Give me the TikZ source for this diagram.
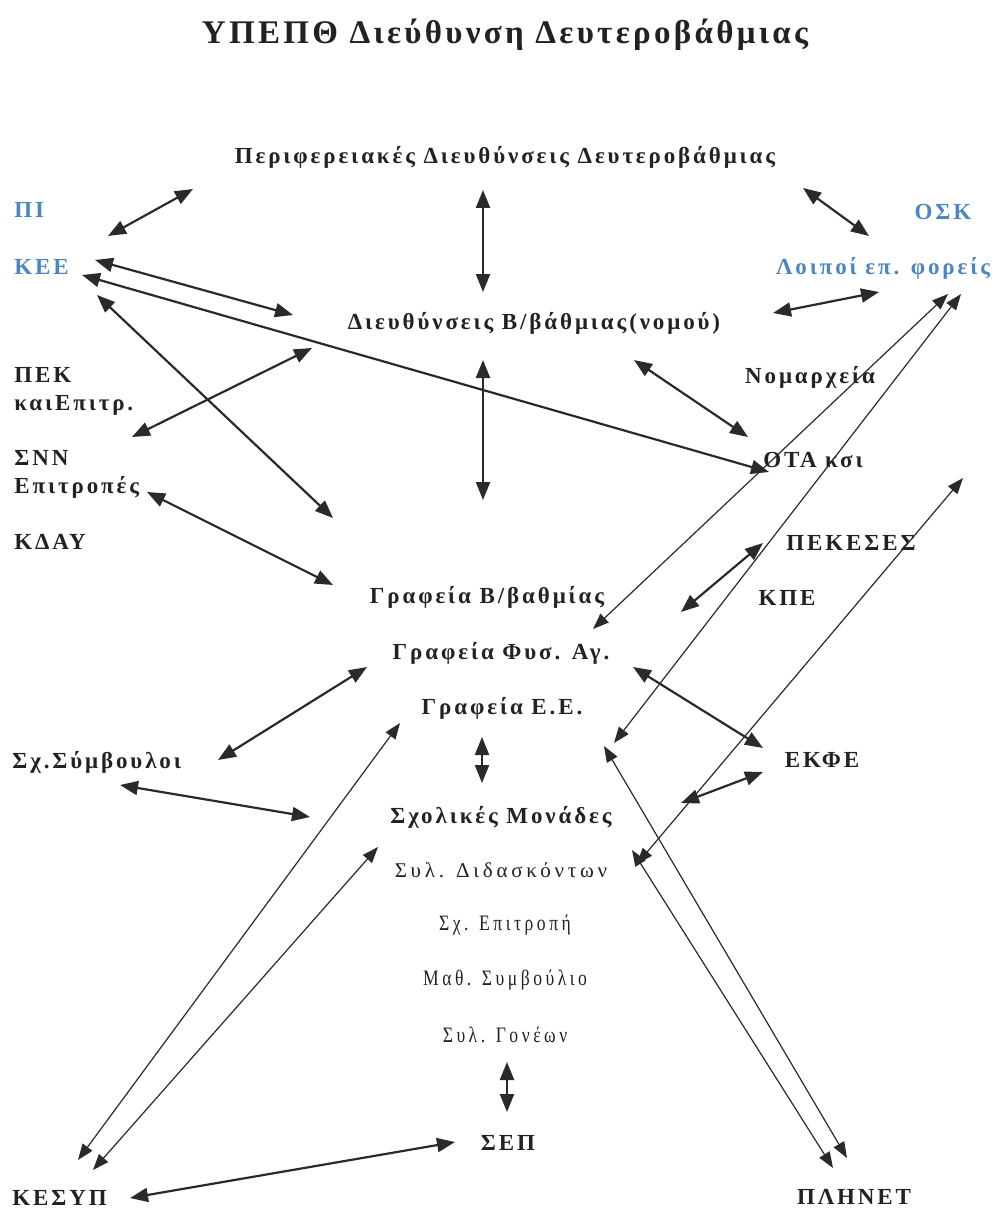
\documentclass[tikz,border=0pt]{standalone}
\usepackage{fontspec}
\setmainfont{Liberation Serif}
\newfontfamily\spcfont[LetterSpace=12.5]{Liberation Serif}
\newfontfamily\ttlfont[LetterSpace=10]{Liberation Serif}
\newfontfamily\wdfont[LetterSpace=18]{Liberation Serif}
\newfontfamily\nrwfont[FakeStretch=0.8,LetterSpace=16]{Liberation Serif}
\usetikzlibrary{arrows.meta}
\definecolor{txt}{HTML}{222222}
\definecolor{blu}{HTML}{4A86C0}
\definecolor{lin}{HTML}{2A2A2A}
\tikzset{
  lbl/.style={font=\fontsize{11.5}{14}\selectfont\spcfont\bfseries, text=txt, inner sep=0pt},
  bluelbl/.style={lbl, text=blu},
  plainlbl/.style={font=\fontsize{10.5}{14}\selectfont\wdfont, text=txt, inner sep=0pt},
  nrwlbl/.style={font=\fontsize{11}{14}\selectfont\nrwfont, text=txt, inner sep=0pt},
  dbl/.style={{Triangle[length=9pt,width=7pt]}-{Triangle[length=9pt,width=7pt]}, draw=lin, line width=1.1pt},
  dblthin/.style={{Triangle[length=8pt,width=6pt]}-{Triangle[length=8pt,width=6pt]}, draw=lin, line width=0.6pt}
}
\begin{document}
\begin{tikzpicture}[x=0.5pt,y=-0.5pt]
	\useasboundingbox (0,0) rectangle (996,1209);
	% labels
	\node (title) at (505,35) {\fontsize{16.5}{20}\selectfont\ttlfont\bfseries\color{txt}ΥΠΕΠΘ Διεύθυνση Δευτεροβάθμιας};
	\node[lbl] (peri) at (505,157) {Περιφερειακές Διευθύνσεις Δευτεροβάθμιας};
	\node[bluelbl, anchor=west] (pi) at (14,210) {ΠΙ};
	\node[bluelbl, anchor=west] (kee) at (14,267) {ΚΕΕ};
	\node[bluelbl] (osk) at (943,212) {ΟΣΚ};
	\node[bluelbl] (loipoi) at (883,268) {Λοιποί επ. φορείς};
	\node[lbl] (dieu) at (534,323) {Διευθύνσεις Β/βάθμιας(νομού)};
	\node[lbl, anchor=west, align=left] (pek) at (14,391) {ΠΕΚ\\καιΕπιτρ.};
	\node[lbl, anchor=west, align=left] (snn) at (14,474) {ΣΝΝ\\Επιτροπές};
	\node[lbl, anchor=west] (kday) at (14,542) {ΚΔΑΥ};
	\node[lbl] (nomar) at (810,377) {Νομαρχεία};
	\node[lbl] (ota) at (813,460) {ΟΤΑ κσι};
	\node[lbl] (pekeses) at (851,543) {ΠΕΚΕΣΕΣ};
	\node[lbl] (kpe) at (787,598) {ΚΠΕ};
	\node[lbl] (grafb) at (487,597) {Γραφεία Β/βαθμίας};
	\node[lbl] (graffys) at (501,653) {Γραφεία Φυσ. Αγ.};
	\node[lbl] (grafee) at (502,708) {Γραφεία Ε.Ε.};
	\node[lbl, anchor=west] (symb) at (12,762) {Σχ.Σύμβουλοι};
	\node[lbl] (ekfe) at (822,760) {ΕΚΦΕ};
	\node[lbl] (sxol) at (501,817) {Σχολικές Μονάδες};
	\node[plainlbl] (syldid) at (501,870) {Συλ. Διδασκόντων};
	\node[nrwlbl] (sxepit) at (505,925) {Σχ. Επιτροπή};
	\node[nrwlbl] (mathsym) at (505,980) {Μαθ. Συμβούλιο};
	\node[nrwlbl] (sylgon) at (505,1035) {Συλ. Γονέων};
	\node[lbl] (sep) at (508,1143) {ΣΕΠ};
	\node[lbl, anchor=west] (kesyp) at (12,1198) {ΚΕΣΥΠ};
	\node[lbl] (plhnet) at (854,1197) {ΠΛΗΝΕΤ};
	% arrow ends
	\coordinate (pi-a) at (108,236);   \coordinate (peri-a) at (193,189);
	\coordinate (peri-b) at (803,188); \coordinate (osk-a) at (869,236);
	\coordinate (peri-c) at (483,190); \coordinate (dieu-a) at (483,292);
	\coordinate (kee-a) at (95,260);   \coordinate (dieu-b) at (293,315);
	\coordinate (kee-b) at (82,275);   \coordinate (ota-a) at (769,472);
	\coordinate (kee-c) at (97,295);   \coordinate (grafb-a) at (333,518);
	\coordinate (pek-a) at (132,437);  \coordinate (dieu-c) at (312,348);
	\coordinate (dieu-d) at (483,360); \coordinate (grafb-b) at (483,500);
	\coordinate (snn-a) at (147,492);  \coordinate (grafb-c) at (333,585);
	\coordinate (dieu-e) at (773,313); \coordinate (loipoi-a) at (879,292);
	\coordinate (dieu-f) at (634,360); \coordinate (ota-b) at (748,437);
	\coordinate (loipoi-b) at (948,294); \coordinate (graffys-a) at (593,629);
	\coordinate (loipoi-c) at (961,294); \coordinate (grafee-a) at (614,743);
	\coordinate (loipoi-d) at (963,478); \coordinate (syldid-a) at (637,864);
	\coordinate (pekeses-a) at (763,543); \coordinate (kpe-a) at (681,612);
	\coordinate (graffys-b) at (633,667); \coordinate (ekfe-a) at (763,748);
	\coordinate (ekfe-b) at (763,772); \coordinate (ekfe-c) at (681,803);
	\coordinate (grafee-b) at (482,737); \coordinate (sxol-a) at (482,783);
	\coordinate (symb-a) at (218,760); \coordinate (graffys-c) at (367,667);
	\coordinate (symb-b) at (120,785); \coordinate (sxol-b) at (310,817);
	\coordinate (kesyp-a) at (78,1160); \coordinate (grafee-c) at (400,723);
	\coordinate (kesyp-b) at (93,1170); \coordinate (syldid-b) at (378,847);
	\coordinate (kesyp-c) at (130,1198); \coordinate (sep-a) at (455,1142);
	\coordinate (sylgon-a) at (507,1062); \coordinate (sep-b) at (507,1112);
	\coordinate (grafee-d) at (604,746); \coordinate (plhnet-a) at (847,1158);
	\coordinate (syldid-c) at (632,850); \coordinate (plhnet-b) at (833,1168);
	% connectors
	\draw[dbl] (pi-a) -- (peri-a);
	\draw[dbl] (peri-b) -- (osk-a);
	\draw[dbl] (peri-c) -- (dieu-a);
	\draw[dbl] (kee-a) -- (dieu-b);
	\draw[dbl] (kee-b) -- (ota-a);
	\draw[dbl] (kee-c) -- (grafb-a);
	\draw[dbl] (pek-a) -- (dieu-c);
	\draw[dbl] (dieu-d) -- (grafb-b);
	\draw[dbl] (snn-a) -- (grafb-c);
	\draw[dbl] (dieu-e) -- (loipoi-a);
	\draw[dbl] (dieu-f) -- (ota-b);
	\draw[dblthin] (loipoi-b) -- (graffys-a);
	\draw[dblthin] (loipoi-c) -- (grafee-a);
	\draw[dblthin] (loipoi-d) -- (syldid-a);
	\draw[dbl] (pekeses-a) -- (kpe-a);
	\draw[dbl] (graffys-b) -- (ekfe-a);
	\draw[dbl] (ekfe-b) -- (ekfe-c);
	\draw[dbl] (grafee-b) -- (sxol-a);
	\draw[dbl] (symb-a) -- (graffys-c);
	\draw[dbl] (symb-b) -- (sxol-b);
	\draw[dblthin] (kesyp-a) -- (grafee-c);
	\draw[dblthin] (kesyp-b) -- (syldid-b);
	\draw[dbl] (kesyp-c) -- (sep-a);
	\draw[dbl] (sylgon-a) -- (sep-b);
	\draw[dblthin] (grafee-d) -- (plhnet-a);
	\draw[dblthin] (syldid-c) -- (plhnet-b);
\end{tikzpicture}
\end{document}
